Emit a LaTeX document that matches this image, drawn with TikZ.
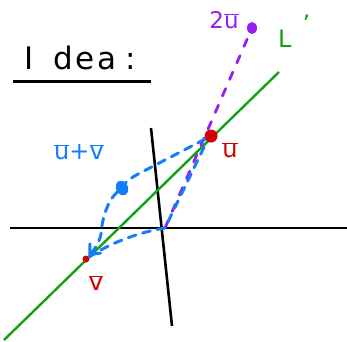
\documentclass[tikz,border=0pt]{standalone}
\usepackage{fontspec}
\setmainfont{DejaVu Sans}
\usetikzlibrary{arrows.meta,shapes.geometric}
\definecolor{pgreen}{RGB}{20,160,20}
\definecolor{pblue}{RGB}{20,125,250}
\definecolor{pred}{RGB}{210,0,0}
\definecolor{ppurple}{RGB}{150,30,240}
\newcommand{\myol}[1]{$\overline{\mbox{#1}}$}
\begin{document}
\begin{tikzpicture}[x=1pt,y=-1pt,
  axisline/.style={line width=2.6pt,black},
  lineL/.style={line width=2.4pt,pgreen},
  bluedash/.style={line width=3pt,pblue,dash pattern=on 8pt off 7pt,line cap=round},
  purpledash/.style={line width=2.8pt,ppurple,dash pattern=on 8pt off 10pt,line cap=round},
  lbl/.style={inner sep=0pt,font=\fontsize{24}{24}\selectfont}]
\useasboundingbox (0,0) rectangle (347,341);
% title
\node[inner sep=0pt,anchor=base west,font=\fontsize{31}{31}\selectfont] (title) at (24,69)
  {I\hspace{20pt}d\hspace{2pt}e\hspace{3pt}a\hspace{9pt}:};
\draw[axisline] (13,81.5) -- (151,81.5);
% axes
\coordinate (xa) at (10,228);
\coordinate (xb) at (347,228);
\coordinate (ya) at (151,128);
\coordinate (yb) at (172,326);
\draw[axisline] (xa) -- (xb);
\draw[axisline] (ya) -- (yb);
% line L
\coordinate (Ls) at (4,340);
\coordinate (Le) at (279,72);
\draw[lineL] (Ls) -- (Le);
\node[pgreen,inner sep=0pt,anchor=base west,font=\fontsize{24}{24}\selectfont] (Llab) at (278,47) {L\hspace{11pt}\raisebox{15pt}{'}};
% points
\coordinate (p) at (165,228);
\node[ellipse,fill=ppurple,minimum width=10pt,minimum height=12pt,inner sep=0pt] (tu) at (252,28) {};
\node[lbl,ppurple,font=\fontsize{23}{23}\selectfont] (tulab) at (224,20) {2\myol{u}};
% dashed lines through p
\draw[purpledash] (p) -- (tu);
\draw[bluedash,dash phase=8pt] (p) -- (207,141);
\node[circle,fill=pred,minimum size=13pt,inner sep=0pt] (u) at (211,136) {};
\node[circle,fill=pred,minimum size=7pt,inner sep=0pt] (v) at (86,259) {};
% blue paths
\node[ellipse,fill=pblue,minimum width=12pt,minimum height=15pt,inner sep=0pt,rotate=25] (blob) at (122,188) {};
\draw[bluedash] (u) -- (142,172) .. controls (132,177) and (127,181) .. (blob);
\draw[bluedash,-{Straight Barb[length=8pt,width=14pt,line cap=round]}]
  (blob) .. controls (108,200) and (102,218) .. (101,234) .. controls (99,244) and (93,251) .. (v);
\draw[bluedash] (p) .. controls (140,232) and (112,242) .. (v);
% labels
\node[lbl,pred] (ulab) at (230,150) {\myol{u}};
\node[lbl,pred,font=\fontsize{25}{25}\selectfont] (vlab) at (96,283) {\myol{v}};
\node[lbl,pblue] (uvlab) at (79,152) {\myol{u}+\myol{v}};
\end{tikzpicture}
\end{document}
